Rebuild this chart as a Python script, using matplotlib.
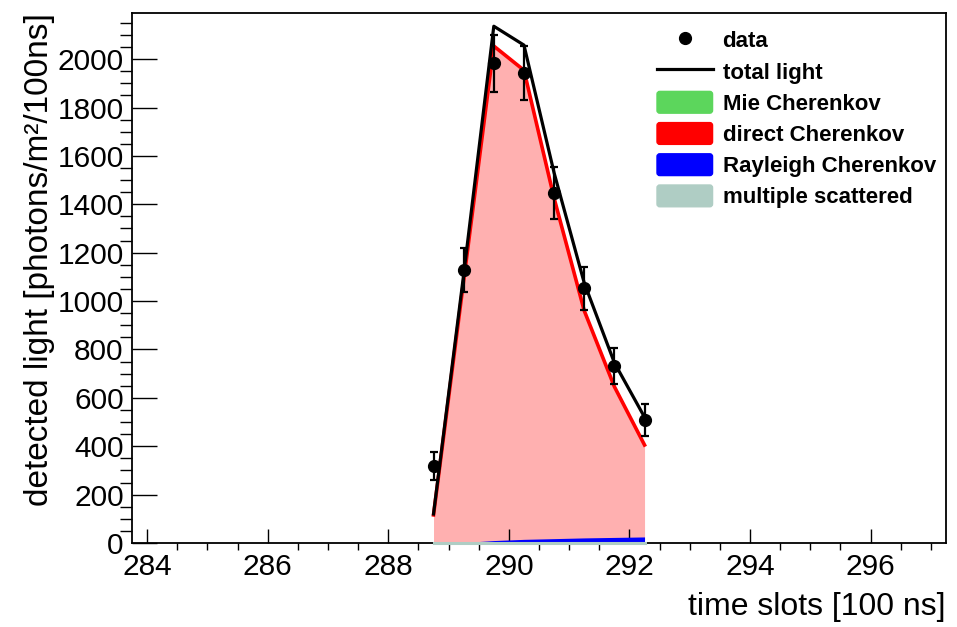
import matplotlib.pyplot as plt
from matplotlib.legend_handler import HandlerPatch
from matplotlib.lines import Line2D
from matplotlib.patches import FancyBboxPatch, Patch
from matplotlib.ticker import MultipleLocator

plt.rcParams['font.family'] = ['Liberation Sans', 'DejaVu Sans']

# time slots (bin centres) [100 ns]
t = [288.75, 289.25, 289.75, 290.25, 290.75, 291.25, 291.75, 292.25]

# measured light and its errors
data = [318, 1128, 1982, 1943, 1448, 1052, 731, 508]
err = [57, 91, 117, 112, 107, 88, 74, 66]

# model components
total = [120, 1110, 2136, 2058, 1530, 1075, 745, 520]
direct = [116, 1085, 2054, 1954, 1425, 960, 646, 405]
mie = [1, 2, 3, 3, 3, 3, 3, 3]
rayleigh = [0, 2, 10, 15, 18, 21, 23, 25]
multi = [4, 4, 5, 5, 5, 5, 5, 5]

c_mie = '#5cd65c'
c_dir = '#ff0000'
c_ray = '#0000ff'
c_mul = '#afcdc4'

fig = plt.figure(figsize=(9.57, 6.27), dpi=100)
ax = fig.add_axes([0.138, 0.134, 0.8505, 0.845])

# filled components
ax.fill_between(t, 0, direct, color='#ffb0b0', lw=0, zorder=1)
ax.plot(t, direct, color=c_dir, lw=2.6, zorder=3)
ax.fill_between(t, 0, mie, color=c_mie, lw=0, zorder=2)
ax.fill_between(t, 0, rayleigh, color=c_ray, lw=0, zorder=2)
ax.fill_between(t, 0, multi, color=c_mul, lw=0, zorder=2)
ax.plot(t, [0] * len(t), color=c_mul, lw=2.2, zorder=5, clip_on=False)

# total light and data
ax.plot(t, total, color='black', lw=2.3, zorder=4)
ax.errorbar(t, data, yerr=err, fmt='o', color='black', ms=8.5,
            elinewidth=1.6, capsize=2.6, capthick=1.6, zorder=6)

ax.set_xlim(283.75, 297.25)
ax.set_ylim(0, 2190)
ax.xaxis.set_major_locator(MultipleLocator(2))
ax.xaxis.set_minor_locator(MultipleLocator(0.5))
ax.yaxis.set_major_locator(MultipleLocator(200))
ax.yaxis.set_minor_locator(MultipleLocator(50))
ax.tick_params(axis='both', direction='in', labelsize=21.5, width=1.0,
               top=False, right=False)
ax.tick_params(axis='y', which='major', length=18, pad=6)
ax.tick_params(axis='y', which='minor', length=9, width=1.0)
ax.tick_params(axis='x', which='major', length=10, pad=7)
ax.tick_params(axis='x', which='minor', length=5, width=1.0)
for s in ax.spines.values():
    s.set_linewidth(1.3)

ax.set_xlabel('time slots [100 ns]', fontsize=23, loc='right', labelpad=8)
ax.set_ylabel('detected light [photons/m²/100ns]', fontsize=24, loc='top',
              labelpad=2)


def rounded_patch(legend, orig_handle, xdescent, ydescent, width, height, fontsize):
    return FancyBboxPatch((-xdescent + 2, -ydescent + 2), width - 4, height - 4,
                          boxstyle='round,pad=2', mutation_aspect=1)


handles = [
    Line2D([], [], ls='none', marker='o', color='black', ms=8.5),
    Line2D([], [], color='black', lw=2.3),
    Patch(color=c_mie),
    Patch(color=c_dir),
    Patch(color=c_ray),
    Patch(color=c_mul),
]
labels = ['data', 'total light', 'Mie Cherenkov', 'direct Cherenkov',
          'Rayleigh Cherenkov', 'multiple scattered']
leg = ax.legend(handles, labels, loc='upper left',
                bbox_to_anchor=(657 / 957, 1 - 29 / 627),
                bbox_transform=fig.transFigure, frameon=False, borderpad=0,
                borderaxespad=0, handlelength=2.5, handleheight=1.13,
                labelspacing=0.35, handletextpad=0.45,
                prop={'size': 16, 'weight': 'bold'},
                handler_map={Patch: HandlerPatch(patch_func=rounded_patch)})

fig.savefig('out.png', dpi=100)
